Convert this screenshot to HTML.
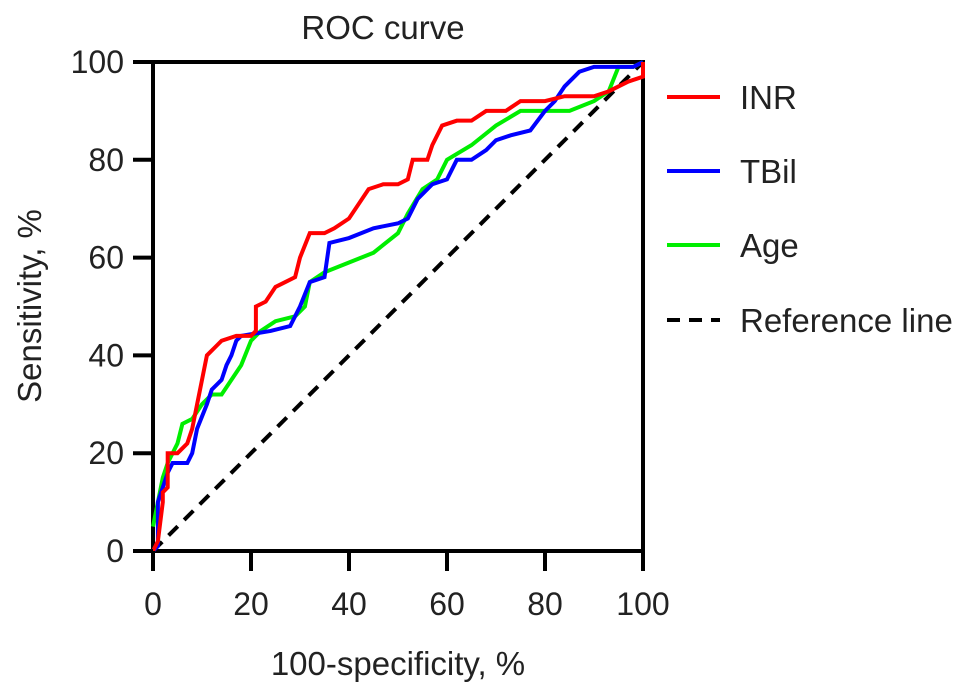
<!DOCTYPE html>
<html><head><meta charset="utf-8"><style>
body{margin:0;background:#fff;}
svg{display:block;font-family:"Liberation Sans",Arial,sans-serif;}
</style></head><body>
<svg id="c" width="969" height="694" xmlns="http://www.w3.org/2000/svg">
<g id="marks"></g>
</svg>
<script>
const xTicks=[0,20,40,60,80,100];
const yTicks=[0,20,40,60,80,100];
const inrX=[0,1,2,2,3,3,5,7,8,9,10,11,13,14,17,20,21,21,23,25,27,29,30,32,35,37,40,42,44,47,50,52,53,56,57,59,62,65,68,72,75,80,84,90,93,95,97,100,100];
const inrY=[0,2,10,12,13,20,20,22,25,30,35,40,42,43,44,44,45,50,51,54,55,56,60,65,65,66,68,71,74,75,75,76,80,80,83,87,88,88,90,90,92,92,93,93,94,95,96,97,100];
const tbilX=[0,1,1,2,3,4,7,8,9,11,12,14,15,16,17,18,24,28,30,32,35,36,40,45,50,52,54,57,60,62,65,68,70,73,77,80,82,84,87,90,95,98,100];
const tbilY=[0,1,10,13,16,18,18,20,25,30,33,35,38,40,43,44,45,46,50,55,56,63,64,66,67,68,72,75,76,80,80,82,84,85,86,90,92,95,98,99,99,99,100];
const ageX=[0,1,2,3,5,6,8,10,12,14,16,18,20,22,25,29,31,32,35,40,45,50,52,55,58,60,65,70,75,80,85,90,93,95,98,100];
const ageY=[5,10,15,18,22,26,27,30,32,32,35,38,43,45,47,48,50,55,57,59,61,65,69,74,76,80,83,87,90,90,90,92,94,99,99,100];
const refX=[0,100], refY=[0,100];

const NS="http://www.w3.org/2000/svg";
const X0=153,X1=643,Y0=551,Y1=62;
const sx=v=>X0+(X1-X0)*v/100;
const sy=v=>Y0-(Y0-Y1)*v/100;
const g=document.getElementById('marks');
function mk(t,a){const e=document.createElementNS(NS,t);for(const k in a)e.setAttribute(k,a[k]);g.appendChild(e);return e;}
function line(xs,ys,col,name,dash){
  const e=mk('polyline',{points:xs.map((x,i)=>sx(x)+','+sy(ys[i])).join(' '),fill:'none',stroke:col,'stroke-width':4,'stroke-linejoin':'miter'});
  if(dash)e.setAttribute('stroke-dasharray','13,9');
  
  
}
let fr=mk('rect',{x:X0,y:Y1,width:X1-X0,height:Y0-Y1,fill:'none',stroke:'#000','stroke-width':4});


line(refX,refY,'#000','reference-line',true);
line(ageX,ageY,'#00ee00','age-curve');
line(tbilX,tbilY,'#0000ff','tbil-curve');
line(inrX,inrY,'#ff0000','inr-curve');
xTicks.forEach(v=>{
  const t=mk('line',{x1:sx(v),x2:sx(v),y1:Y0,y2:Y0+20,stroke:'#000','stroke-width':4});
  
  
  const l=mk('text',{x:sx(v),y:615,'text-anchor':'middle','font-size':32,fill:'#222'});
  l.textContent=v;
  
  
});
yTicks.forEach(v=>{
  const t=mk('line',{x1:X0-20,x2:X0,y1:sy(v),y2:sy(v),stroke:'#000','stroke-width':4});
  
  
  const l=mk('text',{x:124,y:sy(v)+11,'text-anchor':'end','font-size':32,fill:'#222'});
  l.textContent=v;
  
  
});
</script>
<svg style="position:absolute;left:0;top:0" width="969" height="694" xmlns="http://www.w3.org/2000/svg">
<text x="383" y="39" text-anchor="middle" font-size="33" fill="#222" font-family="Liberation Sans,sans-serif">ROC curve</text>
<text x="398" y="675" text-anchor="middle" font-size="33" fill="#222" font-family="Liberation Sans,sans-serif">100-specificity, %</text>
<text transform="translate(41,306) rotate(-90)" text-anchor="middle" font-size="33" fill="#222" font-family="Liberation Sans,sans-serif">Sensitivity, %</text>
<g><line x1="667" x2="720" y1="97" y2="97" stroke="#ff0000" stroke-width="4"/><text x="740" y="109" font-size="33" fill="#222" font-family="Liberation Sans,sans-serif">INR</text></g>
<g><line x1="667" x2="720" y1="171" y2="171" stroke="#0000ff" stroke-width="4"/><text x="740" y="183" font-size="33" fill="#222" font-family="Liberation Sans,sans-serif">TBil</text></g>
<g><line x1="667" x2="720" y1="245" y2="245" stroke="#00ee00" stroke-width="4"/><text x="740" y="257" font-size="33" fill="#222" font-family="Liberation Sans,sans-serif">Age</text></g>
<g><line x1="667" x2="720" y1="320" y2="320" stroke="#000" stroke-width="4" stroke-dasharray="13,9"/><text x="740" y="332" font-size="33" fill="#222" font-family="Liberation Sans,sans-serif">Reference line</text></g>
</svg>
</body></html>
